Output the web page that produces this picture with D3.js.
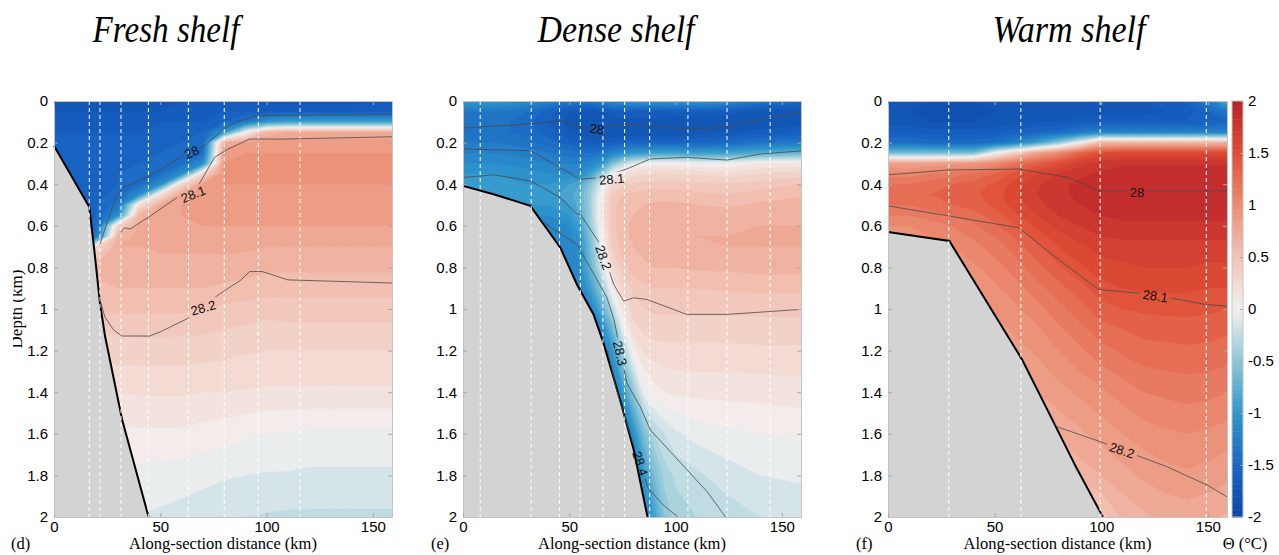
<!DOCTYPE html>
<html>
<head>
<meta charset="utf-8">
<title>Shelf sections</title>
<script src="https://d3js.org/d3.v7.min.js"></script>
<style>
  body { margin: 0; background: #fff; }
  text { font-family: "Liberation Sans", Arial, sans-serif; }
</style>
</head>
<body>
<svg id="chart" width="1279" height="555"></svg>
<script>
// ---- data ----
const depthRows = [0,0.05,0.1,0.15,0.2,0.25,0.3,0.35,0.4,0.45,0.5,0.55,0.6,0.65,0.7,0.8,0.9,1.0,1.1,1.2,1.4,1.6,1.8,2.0];
const freshX = [0,10,20,30,40,50,60,70,80,90,100,110,120,130,140,150,160];
const denseX = [0,15,30,40,50,55,60,65,70,75,80,85,90,95,100,110,125,140,160];
const warmX  = [0,10,20,30,40,50,60,70,80,90,100,110,120,130,140,150,160];

// potential temperature (deg C), one row per depth
const freshTemp = [
  [-1.8,-1.8,-1.8,-1.8,-1.75,-1.75,-1.7,-1.7,-1.7,-1.7,-1.75,-1.75,-1.75,-1.75,-1.75,-1.7,-1.7],
  [-1.7,-1.7,-1.7,-1.7,-1.7,-1.7,-1.65,-1.65,-1.6,-1.6,-1.6,-1.6,-1.6,-1.6,-1.6,-1.6,-1.6],
  [-1.65,-1.65,-1.65,-1.65,-1.65,-1.6,-1.6,-1.6,-1.5,-1.3,-1.0,-0.9,-0.9,-0.9,-0.9,-0.9,-0.9],
  [-1.6,-1.6,-1.6,-1.6,-1.6,-1.6,-1.55,-1.5,-1.0,0.0,0.6,0.7,0.7,0.7,0.7,0.7,0.7],
  [-1.6,-1.6,-1.6,-1.6,-1.6,-1.55,-1.5,-1.45,0.7,0.8,0.85,0.85,0.85,0.85,0.85,0.85,0.85],
  [-1.6,-1.6,-1.6,-1.6,-1.55,-1.5,-1.45,-1.4,0.85,0.9,0.9,0.9,0.9,0.9,0.9,0.9,0.9],
  [-1.6,-1.6,-1.6,-1.55,-1.5,-1.45,-1.4,-1.1,0.9,0.92,0.92,0.92,0.92,0.92,0.92,0.92,0.92],
  [-1.6,-1.6,-1.55,-1.5,-1.45,-1.4,-1.1,0.3,0.9,0.92,0.92,0.92,0.92,0.92,0.92,0.92,0.92],
  [-1.6,-1.6,-1.55,-1.5,-1.4,-1.1,0.3,0.8,0.9,0.9,0.9,0.9,0.9,0.9,0.9,0.9,0.9],
  [-1.6,-1.6,-1.55,-1.45,-1.1,0.2,0.75,0.85,0.88,0.88,0.88,0.88,0.88,0.88,0.88,0.88,0.88],
  [-1.6,-1.6,-1.5,-1.35,0.2,0.7,0.8,0.85,0.85,0.85,0.85,0.85,0.85,0.85,0.85,0.85,0.85],
  [-1.6,-1.6,-1.5,-1.1,0.65,0.78,0.8,0.82,0.82,0.82,0.82,0.82,0.82,0.82,0.82,0.82,0.82],
  [-1.6,-1.6,-1.45,0.3,0.72,0.78,0.78,0.8,0.8,0.8,0.8,0.8,0.8,0.8,0.8,0.8,0.8],
  [-1.6,-1.6,-1.3,0.65,0.72,0.75,0.76,0.76,0.76,0.76,0.74,0.74,0.74,0.74,0.74,0.74,0.74],
  [-1.6,-1.6,0.3,0.7,0.7,0.72,0.72,0.72,0.72,0.72,0.7,0.7,0.7,0.7,0.7,0.7,0.7],
  [0.62,0.62,0.62,0.66,0.66,0.66,0.66,0.66,0.66,0.64,0.62,0.62,0.62,0.62,0.62,0.62,0.62],
  [0.58,0.58,0.58,0.6,0.6,0.6,0.6,0.6,0.58,0.56,0.54,0.54,0.54,0.54,0.54,0.54,0.54],
  [0.5,0.5,0.5,0.52,0.52,0.52,0.52,0.5,0.48,0.46,0.44,0.45,0.45,0.45,0.45,0.45,0.45],
  [0.4,0.4,0.4,0.42,0.43,0.43,0.42,0.42,0.4,0.38,0.36,0.37,0.37,0.37,0.37,0.37,0.37],
  [0.33,0.33,0.33,0.35,0.35,0.35,0.35,0.34,0.33,0.31,0.3,0.3,0.3,0.3,0.3,0.3,0.3],
  [0.2,0.2,0.2,0.2,0.21,0.21,0.21,0.2,0.2,0.19,0.18,0.18,0.18,0.18,0.18,0.18,0.18],
  [0.08,0.08,0.08,0.08,0.08,0.08,0.08,0.06,0.04,0.02,0.0,-0.01,-0.02,-0.02,-0.02,-0.02,-0.02],
  [-0.02,-0.02,-0.02,-0.02,-0.03,-0.04,-0.05,-0.07,-0.09,-0.1,-0.11,-0.11,-0.12,-0.12,-0.12,-0.12,-0.12],
  [-0.1,-0.1,-0.1,-0.1,-0.1,-0.12,-0.14,-0.16,-0.18,-0.2,-0.21,-0.22,-0.22,-0.22,-0.22,-0.22,-0.22]
];

const denseTemp = [
  [-1.0,-1.0,-1.1,-1.2,-1.3,-1.3,-1.3,-1.2,-1.1,-1.05,-1.0,-1.0,-1.0,-1.0,-1.0,-1.0,-1.1,-1.3,-1.45],
  [-1.3,-1.3,-1.4,-1.55,-1.7,-1.75,-1.75,-1.7,-1.65,-1.6,-1.6,-1.6,-1.6,-1.6,-1.6,-1.6,-1.65,-1.75,-1.8],
  [-1.35,-1.35,-1.45,-1.6,-1.75,-1.8,-1.8,-1.8,-1.75,-1.75,-1.75,-1.75,-1.75,-1.8,-1.8,-1.8,-1.8,-1.8,-1.75],
  [-1.35,-1.35,-1.45,-1.55,-1.7,-1.75,-1.8,-1.8,-1.8,-1.8,-1.8,-1.8,-1.8,-1.8,-1.8,-1.75,-1.7,-1.65,-1.6],
  [-1.3,-1.3,-1.35,-1.45,-1.55,-1.6,-1.65,-1.65,-1.6,-1.55,-1.5,-1.5,-1.5,-1.5,-1.5,-1.5,-1.45,-1.35,-1.3],
  [-1.2,-1.2,-1.25,-1.3,-1.35,-1.4,-1.4,-1.35,-1.2,-1.1,-1.0,-0.95,-0.9,-0.9,-0.9,-0.95,-0.9,-0.8,-0.7],
  [-1.1,-1.1,-1.15,-1.2,-1.2,-1.2,-1.15,-1.0,-0.6,-0.3,-0.1,0.0,0.05,0.05,0.05,0.0,0.0,0.1,0.12],
  [-1.0,-1.0,-1.05,-1.1,-1.1,-1.1,-0.9,-0.5,0.0,0.15,0.25,0.28,0.3,0.3,0.3,0.28,0.25,0.3,0.35],
  [-0.95,-0.95,-1.0,-1.0,-0.9,-0.8,-0.5,-0.1,0.25,0.38,0.42,0.44,0.45,0.45,0.45,0.42,0.4,0.45,0.5],
  [-0.9,-0.9,-0.95,-0.95,-0.85,-0.7,-0.4,0.05,0.4,0.5,0.52,0.54,0.55,0.55,0.55,0.52,0.5,0.55,0.58],
  [-1.0,-1.0,-1.0,-1.0,-0.9,-0.75,-0.4,0.1,0.45,0.55,0.58,0.6,0.62,0.62,0.62,0.6,0.58,0.62,0.65],
  [-1.1,-1.1,-1.1,-1.1,-1.0,-0.8,-0.4,0.1,0.45,0.58,0.6,0.62,0.64,0.65,0.65,0.65,0.65,0.67,0.68],
  [-1.2,-1.2,-1.2,-1.2,-1.1,-0.9,-0.45,0.05,0.45,0.58,0.62,0.64,0.66,0.67,0.68,0.68,0.68,0.7,0.7],
  [-1.2,-1.2,-1.2,-1.2,-1.15,-1.0,-0.55,0.0,0.42,0.57,0.62,0.64,0.66,0.67,0.68,0.7,0.7,0.72,0.72],
  [-1.2,-1.2,-1.2,-1.2,-1.2,-1.05,-0.6,-0.05,0.38,0.55,0.6,0.63,0.65,0.66,0.67,0.68,0.7,0.7,0.7],
  [-1.2,-1.2,-1.2,-1.2,-1.2,-1.1,-0.7,-0.2,0.25,0.45,0.55,0.58,0.6,0.6,0.6,0.62,0.62,0.64,0.64],
  [-1.25,-1.25,-1.25,-1.25,-1.25,-1.2,-0.9,-0.5,0.05,0.3,0.42,0.47,0.5,0.5,0.5,0.5,0.52,0.52,0.52],
  [-1.3,-1.3,-1.3,-1.3,-1.3,-1.3,-1.2,-0.8,-0.3,0.15,0.35,0.4,0.42,0.42,0.42,0.42,0.42,0.43,0.43],
  [-1.3,-1.3,-1.3,-1.3,-1.3,-1.3,-1.3,-1.2,-0.7,-0.1,0.25,0.32,0.34,0.35,0.35,0.35,0.35,0.35,0.35],
  [-1.3,-1.3,-1.3,-1.3,-1.3,-1.3,-1.3,-1.2,-1.0,-0.4,0.05,0.22,0.26,0.27,0.27,0.27,0.27,0.28,0.28],
  [-1.3,-1.3,-1.3,-1.3,-1.3,-1.3,-1.3,-1.3,-1.25,-1.0,-0.5,-0.05,0.05,0.1,0.12,0.13,0.13,0.14,0.15],
  [-1.3,-1.3,-1.3,-1.3,-1.3,-1.3,-1.3,-1.3,-1.3,-1.25,-1.1,-0.6,-0.3,-0.2,-0.12,-0.06,-0.02,0.0,0.02],
  [-1.3,-1.3,-1.3,-1.3,-1.3,-1.3,-1.3,-1.3,-1.3,-1.3,-1.25,-1.0,-0.6,-0.35,-0.28,-0.22,-0.15,-0.1,-0.08],
  [-1.3,-1.3,-1.3,-1.3,-1.3,-1.3,-1.3,-1.3,-1.3,-1.3,-1.3,-1.2,-0.9,-0.5,-0.35,-0.3,-0.25,-0.2,-0.18]
];

const warmTemp = [
  [-1.75,-1.75,-1.8,-1.8,-1.8,-1.8,-1.75,-1.75,-1.7,-1.7,-1.7,-1.7,-1.7,-1.7,-1.6,-1.2,-0.7],
  [-1.8,-1.8,-1.85,-1.85,-1.85,-1.8,-1.8,-1.75,-1.75,-1.75,-1.75,-1.75,-1.75,-1.7,-1.65,-1.5,-1.3],
  [-1.75,-1.75,-1.8,-1.8,-1.8,-1.8,-1.75,-1.7,-1.7,-1.65,-1.6,-1.6,-1.6,-1.6,-1.6,-1.6,-1.5],
  [-1.6,-1.6,-1.65,-1.65,-1.65,-1.6,-1.55,-1.5,-1.45,-1.3,-1.2,-1.2,-1.2,-1.2,-1.2,-1.2,-1.2],
  [-1.4,-1.4,-1.45,-1.45,-1.45,-1.4,-1.2,-0.9,-0.5,0.0,0.6,0.6,0.6,0.6,0.6,0.6,0.6],
  [-0.6,-0.6,-0.6,-0.6,-0.6,0.0,0.4,0.8,1.0,1.3,1.5,1.55,1.55,1.55,1.55,1.55,1.55],
  [0.8,0.8,0.8,0.85,0.9,1.0,1.2,1.35,1.5,1.65,1.75,1.78,1.78,1.78,1.78,1.78,1.78],
  [1.05,1.05,1.1,1.15,1.2,1.3,1.45,1.6,1.7,1.78,1.82,1.85,1.85,1.85,1.85,1.85,1.85],
  [1.2,1.2,1.25,1.3,1.35,1.42,1.55,1.68,1.78,1.82,1.85,1.88,1.88,1.88,1.88,1.88,1.88],
  [1.25,1.25,1.3,1.35,1.38,1.45,1.58,1.7,1.78,1.82,1.86,1.88,1.88,1.88,1.88,1.88,1.88],
  [1.2,1.2,1.25,1.3,1.35,1.42,1.55,1.66,1.76,1.8,1.84,1.86,1.86,1.86,1.86,1.86,1.86],
  [1.1,1.1,1.15,1.2,1.25,1.35,1.48,1.6,1.7,1.76,1.8,1.82,1.82,1.82,1.82,1.82,1.82],
  [1.0,1.0,1.05,1.1,1.18,1.28,1.4,1.52,1.64,1.7,1.75,1.78,1.78,1.78,1.78,1.78,1.78],
  [0.95,0.95,1.0,1.05,1.12,1.2,1.32,1.45,1.56,1.64,1.7,1.72,1.72,1.72,1.72,1.72,1.72],
  [0.9,0.9,0.95,1.0,1.06,1.15,1.25,1.38,1.5,1.58,1.64,1.66,1.66,1.66,1.66,1.66,1.66],
  [0.85,0.85,0.88,0.92,0.98,1.05,1.15,1.26,1.38,1.48,1.56,1.58,1.6,1.6,1.6,1.58,1.58],
  [0.8,0.8,0.82,0.86,0.92,0.98,1.06,1.16,1.26,1.36,1.46,1.5,1.52,1.52,1.52,1.5,1.5],
  [0.75,0.75,0.78,0.8,0.86,0.92,0.98,1.06,1.16,1.26,1.36,1.4,1.42,1.43,1.43,1.42,1.4],
  [0.7,0.7,0.72,0.75,0.8,0.86,0.92,0.98,1.08,1.16,1.26,1.3,1.33,1.34,1.35,1.34,1.32],
  [0.68,0.68,0.7,0.72,0.76,0.8,0.86,0.92,1.0,1.08,1.16,1.22,1.26,1.27,1.28,1.27,1.25],
  [0.62,0.62,0.64,0.66,0.68,0.7,0.74,0.8,0.86,0.92,0.98,1.04,1.1,1.12,1.14,1.13,1.1],
  [0.55,0.55,0.56,0.58,0.6,0.62,0.65,0.68,0.72,0.78,0.84,0.9,0.95,0.98,1.0,0.98,0.95],
  [0.48,0.48,0.5,0.5,0.52,0.54,0.56,0.58,0.6,0.64,0.7,0.76,0.82,0.86,0.88,0.86,0.82],
  [0.4,0.4,0.42,0.42,0.44,0.46,0.48,0.5,0.52,0.42,0.45,0.62,0.68,0.72,0.74,0.72,0.68]
];

// seafloor [km, depth km]
const freshBathy = [[0,0.215],[16.6,0.51],[19,0.72],[21.6,0.97],[24,1.13],[32,1.53],[44.5,2.0]];
const denseBathy = [[0,0.408],[14.4,0.448],[31.7,0.504],[45.8,0.705],[53.6,0.882],[61.4,1.026],[66.1,1.164],[73.9,1.437],[80.3,1.677],[86.8,2.0]];
const warmBathy  = [[0,0.63],[28.8,0.673],[63,1.245],[75,1.49],[88.2,1.76],[100.8,2.0]];

// section stations (dashed white lines)
const freshDash = [16.6,21.6,31.5,44.4,63.2,80.1,96.1,115.7];
const denseDash = [8.1,32.1,45.4,55.2,65.8,76.0,87.8,105.8,124.2,144.5];
const warmDash  = [28.5,62.3,99.5,149.3];

// isopycnals [km, depth]
const fresh28  = [[21.6,0.69],[23.2,0.64],[26.3,0.54],[29.5,0.46],[31.8,0.42],[45.2,0.36],[59.3,0.27],[64.8,0.245],[71.8,0.207],[79.6,0.135],[85.9,0.1],[96.1,0.07],[159,0.065]];
const fresh281 = [[31.5,0.63],[33,0.61],[36,0.615],[40.4,0.585],[45.3,0.553],[57.9,0.464],[67.8,0.408],[75.6,0.27],[81.9,0.231],[92,0.183],[107.9,0.183],[159,0.172]];
const fresh282 = [[21.4,0.95],[24,1.04],[28,1.1],[32,1.13],[45,1.13],[50,1.11],[64,1.04],[72,0.97],[82,0.9],[88,0.86],[92,0.82],[98,0.82],[110,0.86],[159,0.875]];
const dense28  = [[0,0.13],[31.7,0.11],[45.8,0.095],[55.2,0.127],[63,0.13],[75.5,0.11],[86.5,0.119],[105.3,0.135],[124.2,0.127],[144.5,0.078],[159,0.055]];
const dense281 = [[0,0.231],[31.7,0.239],[55.2,0.376],[64.6,0.368],[77,0.327],[88,0.279],[105.3,0.271],[124.2,0.284],[139.8,0.255],[159,0.24]];
const dense282 = [[0,0.368],[14.4,0.355],[31.7,0.384],[45.8,0.464],[53.6,0.544],[55.2,0.544],[58.3,0.593],[64.6,0.689],[70.9,0.882],[75.6,0.962],[80.3,0.946],[86.5,0.954],[105.3,1.026],[124.2,1.026],[159,1.002]];
const dense283 = [[36.5,0.575],[45.8,0.637],[53.6,0.69],[61.4,0.83],[67.7,0.945],[71,1.05],[74,1.2],[77.1,1.357],[83.4,1.47],[88.1,1.581],[97,1.68],[106.9,1.79],[115,1.88],[123.5,2.0]];
const dense284 = [[68,1.2],[72,1.38],[77,1.55],[81,1.68],[84,1.76],[87,1.86],[94,1.94],[101,2.0]];
const warm28   = [[0,0.355],[28.2,0.332],[61.2,0.327],[84.7,0.368],[98.8,0.432],[159,0.432]];
const warm281  = [[0,0.504],[28.2,0.552],[61.2,0.609],[76.8,0.737],[98.8,0.906],[123.9,0.93],[148.9,0.978],[159,0.986]];
const warm282  = [[77.5,1.55],[79.2,1.566],[99.6,1.638],[131,1.759],[149.8,1.847],[159.2,1.904]];

// contour labels: km, depth, text, angle
const freshLabels = [[64.8,0.247,"28",-25],[65.5,0.448,"28.1",-22],[70.2,0.994,"28.2",-16]];
const denseLabels = [[63,0.135,"28",8],[70,0.376,"28.1",-5],[66.1,0.753,"28.2",70],[73.9,1.213,"28.3",77],[83.4,1.743,"28.4",72]];
const warmLabels  = [[116.8,0.44,"28",0],[125.4,0.938,"28.1",8],[109.7,1.68,"28.2",18]];

const depthTicks = [0,0.2,0.4,0.6,0.8,1,1.2,1.4,1.6,1.8,2];
const distTicks = [0,50,100,150];
const thetaTicks = [-2,-1.5,-1,-0.5,0,0.5,1,1.5,2];
const thetaColors = ["#0a46a8","#1a66c4","#2f96cc","#8cc6d6","#f3f1f0","#f2c3b6","#eb8d72","#df4e36","#b91f2a"];

// ---- drawing ----
const svg = d3.select("#chart");
const plotTop = 101, plotBottom = 517;
const serif = "'Liberation Serif', 'DejaVu Serif', serif";
const sans = "'Liberation Sans', Arial, sans-serif";
const color = d3.scaleLinear().domain(thetaTicks).range(thetaColors).clamp(true);
const levels = d3.range(-20, 21).map(k => k / 10);
const fmt = d => String(d);

const panels = [
  {title: "Fresh shelf", tag: "(d)", tagX: 11, x0: 54, x1: 392, titleX: 166, titleLen: 147,
   xs: freshX, temp: freshTemp, bathy: freshBathy, dash: freshDash,
   lines: [fresh28, fresh281, fresh282], labels: freshLabels},
  {title: "Dense shelf", tag: "(e)", tagX: 431, x0: 463, x1: 801, titleX: 616, titleLen: 157,
   xs: denseX, temp: denseTemp, bathy: denseBathy, dash: denseDash,
   lines: [dense28, dense281, dense282, dense283, dense284], labels: denseLabels},
  {title: "Warm shelf", tag: "(f)", tagX: 856, x0: 888, x1: 1227, titleX: 1069, titleLen: 153,
   xs: warmX, temp: warmTemp, bathy: warmBathy, dash: warmDash,
   lines: [warm28, warm281, warm282], labels: warmLabels}
];

const defs = svg.append("defs");

panels.forEach((p, i) => {
  const x = d3.scaleLinear().domain([0, 159]).range([p.x0, p.x1]);
  const y = d3.scaleLinear().domain([0, 2]).range([plotTop, plotBottom]);
  const g = svg.append("g");

  defs.append("clipPath").attr("id", "clip" + i)
    .append("rect").attr("x", p.x0).attr("y", plotTop)
    .attr("width", p.x1 - p.x0).attr("height", plotBottom - plotTop);

  // filled temperature contours
  const n = p.xs.length, m = depthRows.length;
  const xi = d3.scaleLinear().domain(d3.range(n)).range(p.xs).clamp(true);
  const yi = d3.scaleLinear().domain(d3.range(m)).range(depthRows).clamp(true);
  const contours = d3.contours().size([n, m]).thresholds(levels)(p.temp.flat());
  contours.forEach(c => {
    c.coordinates = c.coordinates.map(poly => poly.map(ring =>
      ring.map(([cx, cy]) => [x(xi(cx - 0.5)), y(yi(cy - 0.5))])));
  });
  const geo = d3.geoPath();
  g.append("g").attr("clip-path", `url(#clip${i})`)
    .selectAll("path").data(contours).join("path")
    .attr("d", geo)
    .attr("fill", d => color(d.value + 0.05))
    .attr("stroke", d => color(d.value + 0.05))
    .attr("stroke-width", 0.3);

  // seafloor
  const line = d3.line().x(d => x(d[0])).y(d => y(d[1]));
  const last = p.bathy[p.bathy.length - 1];
  g.append("path")
    .attr("d", line(p.bathy.concat([[last[0], 2], [0, 2]])) + "Z")
    .attr("fill", "#d3d3d3");
  g.append("path").attr("d", line(p.bathy))
    .attr("fill", "none").attr("stroke", "#000").attr("stroke-width", 2);

  // stations
  g.append("g").selectAll("line").data(p.dash).join("line")
    .attr("x1", d => x(d)).attr("x2", d => x(d))
    .attr("y1", plotTop).attr("y2", plotBottom)
    .attr("stroke", "#fff").attr("stroke-width", 1.1)
    .attr("stroke-dasharray", "4,3").attr("opacity", 0.9);

  // isopycnals with gaps for labels
  const mask = defs.append("mask").attr("id", "mask" + i).attr("maskUnits", "userSpaceOnUse")
    .attr("x", 0).attr("y", 0).attr("width", 1279).attr("height", 555);
  mask.append("rect").attr("width", 1279).attr("height", 555).attr("fill", "#fff");
  p.labels.forEach(l => {
    const w = l[2].length * 7 + 4;
    mask.append("rect").attr("x", -w / 2).attr("y", -7).attr("width", w).attr("height", 14)
      .attr("fill", "#000")
      .attr("transform", `translate(${x(l[0])},${y(l[1])}) rotate(${l[3]})`);
  });
  g.append("g").attr("mask", `url(#mask${i})`).attr("clip-path", `url(#clip${i})`)
    .selectAll("path").data(p.lines).join("path")
    .attr("d", line).attr("fill", "none")
    .attr("stroke", "#4a4a4a").attr("stroke-width", 0.8);
  g.append("g").selectAll("text").data(p.labels).join("text")
    .attr("transform", d => `translate(${x(d[0])},${y(d[1])}) rotate(${d[3]})`)
    .attr("text-anchor", "middle").attr("dy", "0.35em")
    .attr("font-size", 13).attr("fill", "#111")
    .text(d => d[2]);

  // axes (box with inward ticks)
  const styleAxis = a => {
    a.select(".domain").attr("stroke", "#c4c4c4");
    a.selectAll(".tick line").attr("stroke", "#a8a8a8");
    a.selectAll("text").attr("font-size", 15).attr("fill", "#000").style("font-family", sans);
  };
  g.append("g").attr("transform", `translate(${p.x0},0)`)
    .call(d3.axisLeft(y).tickValues(depthTicks).tickFormat(fmt).tickSize(-4).tickPadding(6))
    .call(styleAxis);
  g.append("g").attr("transform", `translate(${p.x1},0)`)
    .call(d3.axisRight(y).tickValues(depthTicks).tickFormat("").tickSize(-4))
    .call(styleAxis);
  g.append("g").attr("transform", `translate(0,${plotBottom})`)
    .call(d3.axisBottom(x).tickValues(distTicks).tickFormat(fmt).tickSize(-4).tickPadding(4))
    .call(styleAxis);
  g.append("g").attr("transform", `translate(0,${plotTop})`)
    .call(d3.axisTop(x).tickValues(distTicks).tickFormat("").tickSize(-4))
    .call(styleAxis);

  // titles and labels
  svg.append("text").style("font-family", serif)
    .attr("x", p.titleX - p.titleLen / 2).attr("y", 42)
    .attr("font-size", 38).attr("font-style", "italic")
    .attr("textLength", p.titleLen).attr("lengthAdjust", "spacingAndGlyphs")
    .text(p.title);
  svg.append("text").style("font-family", serif)
    .attr("x", (p.x0 + p.x1) / 2).attr("y", 549)
    .attr("text-anchor", "middle").attr("font-size", 16.5)
    .text("Along-section distance (km)");
  svg.append("text").style("font-family", serif)
    .attr("x", p.tagX).attr("y", 549).attr("font-size", 16.5)
    .text(p.tag);
});

// y-axis title, cut at the left edge as in the figure
defs.append("clipPath").attr("id", "ylabClip")
  .append("rect").attr("x", 13).attr("y", 0).attr("width", 40).attr("height", 555);
svg.append("g").attr("clip-path", "url(#ylabClip)")
  .append("text").style("font-family", serif)
  .attr("transform", "translate(22,309) rotate(-90)")
  .attr("text-anchor", "middle").attr("font-size", 17)
  .text("Depth (km)");

// colorbar
const cbx0 = 1232, cbx1 = 1243;
const cb = d3.scaleLinear().domain([-2, 2]).range([plotBottom, plotTop]);
const steps = d3.range(-2, 2, 0.025);
svg.append("g").selectAll("rect").data(steps).join("rect")
  .attr("x", cbx0).attr("width", cbx1 - cbx0)
  .attr("y", d => cb(d + 0.025)).attr("height", cb(0) - cb(0.025) + 0.5)
  .attr("fill", d => color(d + 0.0125));
svg.append("rect").attr("x", cbx0).attr("y", plotTop)
  .attr("width", cbx1 - cbx0).attr("height", plotBottom - plotTop)
  .attr("fill", "none").attr("stroke", "#c4c4c4");
svg.append("g").attr("transform", `translate(${cbx1},0)`)
  .call(d3.axisRight(cb).tickValues(thetaTicks).tickFormat(fmt).tickSize(-3).tickPadding(5))
  .call(a => {
    a.select(".domain").remove();
    a.selectAll(".tick line").attr("stroke", "#a8a8a8");
    a.selectAll("text").attr("font-size", 15).attr("fill", "#000").style("font-family", sans);
  });
svg.append("text").style("font-family", serif)
  .attr("x", 1245).attr("y", 549).attr("text-anchor", "middle").attr("font-size", 16.5)
  .text("Θ (°C)");
</script>
</body>
</html>
